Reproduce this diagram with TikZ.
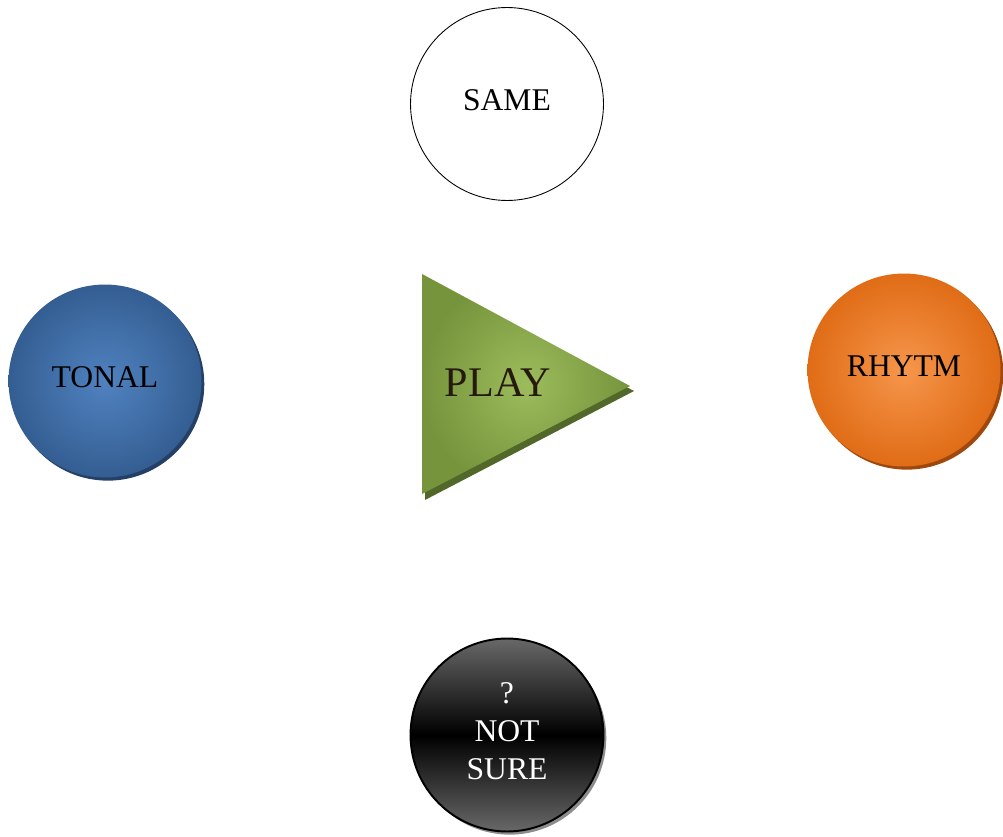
\documentclass[tikz,border=0pt]{standalone}
\usepackage{fontspec}
\setmainfont{Liberation Serif}
\usetikzlibrary{shadows}
\definecolor{tonalblue}{RGB}{80,130,192}
\definecolor{tonaledge}{RGB}{52,94,146}
\definecolor{tonalshade}{RGB}{36,64,102}
\definecolor{rhytmlight}{RGB}{246,150,75}
\definecolor{rhytmedge}{RGB}{224,108,22}
\definecolor{rhytmshade}{RGB}{158,72,14}
\definecolor{playlight}{RGB}{156,188,92}
\definecolor{playedge}{RGB}{118,148,60}
\definecolor{playshade}{RGB}{82,104,42}
\definecolor{unsuregray}{RGB}{104,104,104}

\begin{document}
\begin{tikzpicture}[x=0.02cm, y=-0.02cm,
  ball/.style={circle, minimum size=3.86cm, inner sep=0pt, align=center,
    text depth=4.6pt, font=\fontsize{18}{21.5}\selectfont},
  shadowed/.style={drop shadow={shadow xshift=1.6pt, shadow yshift=-1.8pt,
    fill=#1, opacity=1}}]
\useasboundingbox (0,0) rectangle (1003,837);
% top choice
\node[ball, draw, line width=0.5pt, fill=white] (same) at (507,104) {SAME};
% side choices
\node[ball, shading=radial, inner color=tonalblue, outer color=tonaledge,
  shadowed=tonalshade] (tonal) at (105,381) {TONAL};
\node[ball, shading=radial, inner color=rhytmlight, outer color=rhytmedge,
  shadowed=rhytmshade] (rhytm) at (904,370) {RHYTM};
% bottom choice
\node[ball, draw, line width=1.1pt, top color=unsuregray, bottom color=unsuregray,
  middle color=black, text=white, shadowed=black!45] (unsure) at (507,735)
  {?\\NOT\\SURE};
% play button
\fill[playshade] (425,280) -- (425,500) -- (634,391) -- cycle;
\shade[inner color=playlight, outer color=playedge]
  (422,274) -- (422,494) -- (630,386) -- cycle;
\node[font=\fontsize{24}{28}\selectfont, text=black!80!brown] (play) at (498,383) {PLAY};
\end{tikzpicture}
\end{document}
